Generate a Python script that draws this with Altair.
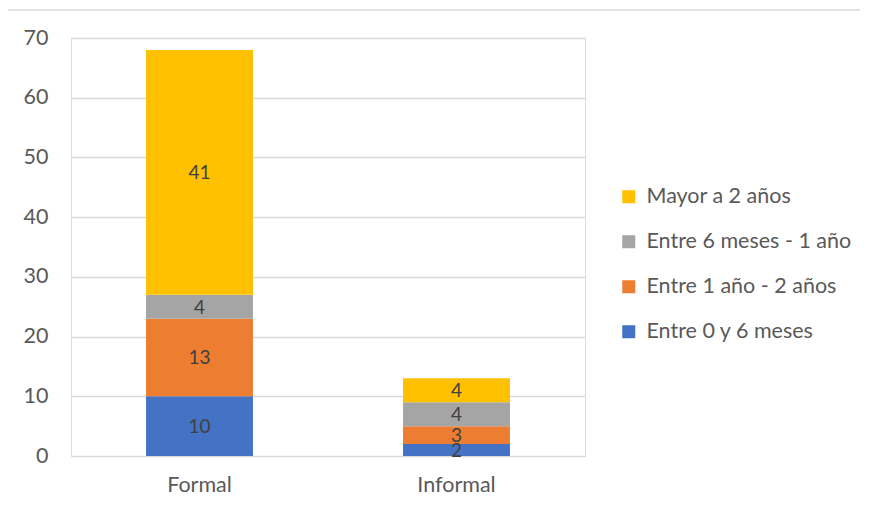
import altair as alt
import pandas as pd

categories = ["Formal", "Informal"]
series = ["Entre 0 y 6 meses", "Entre 1 año - 2 años", "Entre 6 meses - 1 año", "Mayor a 2 años"]
colors = ["#4472C4", "#ED7D31", "#A5A5A5", "#FFC000"]
formal_vals = [10, 13, 4, 41]
informal_vals = [2, 3, 4, 4]
y_ticks = [0, 10, 20, 30, 40, 50, 60, 70]

rows = []
for cat, vals in zip(categories, [formal_vals, informal_vals]):
    for i, (s, v) in enumerate(zip(series, vals)):
        rows.append({"cat": cat, "serie": s, "valor": v, "orden": i})
df = pd.DataFrame(rows)

FONT = "Lato"
FS = 21.5
legend_order = list(reversed(series))
legend_colors = list(reversed(colors))

base = alt.Chart(df).transform_stack(
    stack="valor", groupby=["cat"], as_=["y0", "y1"], sort=[alt.SortField("orden", order="ascending")]
).transform_calculate(mid="(datum.y0 + datum.y1) / 2")

xenc = alt.X("cat:N", sort=categories, title=None,
             scale=alt.Scale(paddingInner=0.584, paddingOuter=0.292),
             axis=alt.Axis(labelAngle=0, labelFontSize=FS, labelColor="#595959", labelFont=FONT,
                           ticks=False, domain=False, labelPadding=18, grid=False))

bars = base.mark_bar().encode(
    x=xenc,
    y=alt.Y("y0:Q", title=None, scale=alt.Scale(domain=[0, 70], nice=False),
            axis=alt.Axis(values=y_ticks, labelFontSize=FS, labelColor="#595959", labelFont=FONT,
                          ticks=False, domain=False, gridColor="#D9D9D9", gridWidth=1.3,
                          labelPadding=23)),
    y2="y1:Q",
    color=alt.Color("serie:N", scale=alt.Scale(domain=legend_order, range=legend_colors),
                    legend=alt.Legend(title=None, orient="none", legendX=547, legendY=148,
                                      symbolType="square", symbolSize=169, symbolStrokeWidth=0,
                                      labelFontSize=FS, labelColor="#595959", labelFont=FONT,
                                      labelLimit=400, rowPadding=22, labelOffset=7)),
)

labels = base.mark_text(fontSize=19, color="#404040", font=FONT, dy=1).encode(
    x=alt.X("cat:N", sort=categories),
    y=alt.Y("mid:Q"),
    text="valor:Q",
)

frame = alt.Chart(pd.DataFrame({"a": [0]})).mark_rect(
    fill=None, stroke="#D9D9D9", strokeWidth=1.5
).encode(x=alt.value(-64), x2=alt.value(796), y=alt.value(-28), y2=alt.value(480))

chart = alt.layer(frame, bars, labels).properties(
    width=514, height=418,
    autosize=alt.AutoSizeParams(type="none"),
    padding={"left": 63, "top": 30, "right": 275, "bottom": 48},
).configure_view(stroke=None).configure(background="white")

chart.save("out.html", embed_options={"renderer": "svg", "actions": False})
